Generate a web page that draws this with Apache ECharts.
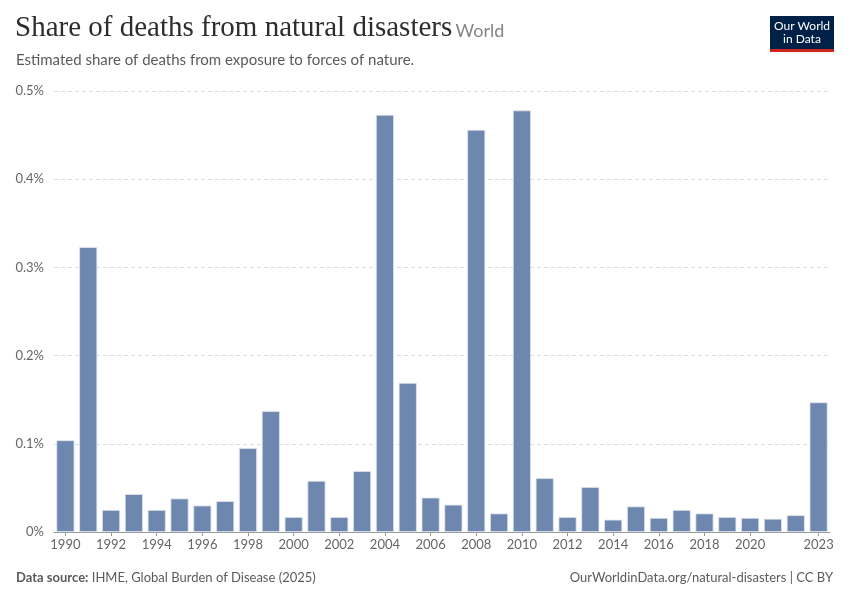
<!DOCTYPE html>
<html>
<head>
<meta charset="utf-8">
<script src="https://cdn.jsdelivr.net/npm/echarts@6/dist/echarts.min.js"></script>
<style>
  html, body { margin: 0; padding: 0; background: #fff; }
  #chart { width: 850px; height: 600px; }
</style>
</head>
<body>
<div id="chart"></div>
<script>
// 年份
const years = [
  '1990', '1991', '1992', '1993', '1994', '1995', '1996', '1997', '1998', '1999',
  '2000', '2001', '2002', '2003', '2004', '2005', '2006', '2007', '2008', '2009',
  '2010', '2011', '2012', '2013', '2014', '2015', '2016', '2017', '2018', '2019',
  '2020', '2021', '2022', '2023'
]
// 死亡占比 (%)
const shareValues = [
  0.104, 0.323, 0.025, 0.043, 0.025, 0.038, 0.030, 0.035, 0.095, 0.137,
  0.017, 0.058, 0.017, 0.069, 0.473, 0.169, 0.039, 0.031, 0.456, 0.021,
  0.478, 0.061, 0.017, 0.051, 0.014, 0.029, 0.016, 0.025, 0.021, 0.017,
  0.016, 0.015, 0.019, 0.147
]
// 显示的 x 轴标签
const shownYears = [
  '1990', '1992', '1994', '1996', '1998', '2000', '2002', '2004', '2006',
  '2008', '2010', '2012', '2014', '2016', '2018', '2020', '2023'
]

const chart = echarts.init(document.getElementById('chart'))

const showYear = (index) => shownYears.includes(years[index])

const option = {
  backgroundColor: '#fff',
  animation: false,
  textStyle: { fontFamily: 'Lato, sans-serif' },
  grid: { left: 54, right: 20, top: 91, bottom: 68, containLabel: false },
  xAxis: {
    type: 'category',
    data: years,
    axisLine: { lineStyle: { color: '#999', width: 1 } },
    axisTick: {
      show: true,
      alignWithLabel: true,
      interval: (index) => showYear(index),
      length: 4,
      lineStyle: { color: '#999' }
    },
    axisLabel: {
      interval: (index) => showYear(index),
      color: '#666',
      fontSize: 13,
      margin: 6
    }
  },
  yAxis: {
    type: 'value',
    min: 0,
    max: 0.5,
    interval: 0.1,
    axisLine: { show: false },
    axisTick: { show: false },
    axisLabel: {
      color: '#666',
      fontSize: 13,
      margin: 10,
      formatter: (v) => (v === 0 ? '0%' : v.toFixed(1) + '%')
    },
    splitLine: { lineStyle: { color: '#ddd', type: [4, 3] } }
  },
  series: [
    {
      type: 'bar',
      data: shareValues,
      barCategoryGap: '21%',
      itemStyle: {
        color: '#6d87af',
        borderColor: '#dfe5ef',
        borderWidth: 0.8
      }
    }
  ],
  graphic: [
    {
      type: 'text',
      left: 15,
      top: 14,
      style: {
        text: '{t|Share of deaths from natural disasters} {w|World}',
        rich: {
          t: { fontFamily: '"Liberation Serif", serif', fontSize: 29, fill: '#2d2d2d', fontWeight: 'normal' },
          w: { fontFamily: 'Lato, sans-serif', fontSize: 18, fill: '#858585', padding: [6, 0, 0, 0] }
        }
      }
    },
    {
      type: 'text',
      left: 16,
      top: 53,
      style: {
        text: 'Estimated share of deaths from exposure to forces of nature.',
        fontFamily: 'Lato, sans-serif',
        fontSize: 15,
        fill: '#5b5b5b'
      }
    },
    // logo
    {
      type: 'group',
      left: 770,
      top: 16,
      children: [
        { type: 'rect', shape: { x: 0, y: 0, width: 64, height: 33 }, style: { fill: '#002147' } },
        { type: 'rect', shape: { x: 0, y: 33, width: 64, height: 3 }, style: { fill: '#ce261e' } },
        {
          type: 'text',
          x: 32,
          y: 17,
          style: {
            text: 'Our World\nin Data',
            fontFamily: 'Lato, sans-serif',
            fontSize: 12,
            lineHeight: 13,
            fill: '#fff',
            align: 'center',
            verticalAlign: 'middle'
          }
        }
      ]
    },
    {
      type: 'text',
      left: 16,
      top: 571,
      style: {
        text: '{b|Data source:} IHME, Global Burden of Disease (2025)',
        fontFamily: 'Lato, sans-serif',
        fontSize: 13,
        fill: '#5b5b5b',
        rich: {
          b: { fontFamily: 'Lato, sans-serif', fontSize: 13, fontWeight: 'bold', fill: '#5b5b5b' }
        }
      }
    },
    {
      type: 'text',
      right: 17,
      top: 571,
      style: {
        text: 'OurWorldinData.org/natural-disasters | CC BY',
        fontFamily: 'Lato, sans-serif',
        fontSize: 13,
        fill: '#5b5b5b'
      }
    }
  ]
}

chart.setOption(option)
window.addEventListener('resize', () => chart.resize())
</script>
</body>
</html>
